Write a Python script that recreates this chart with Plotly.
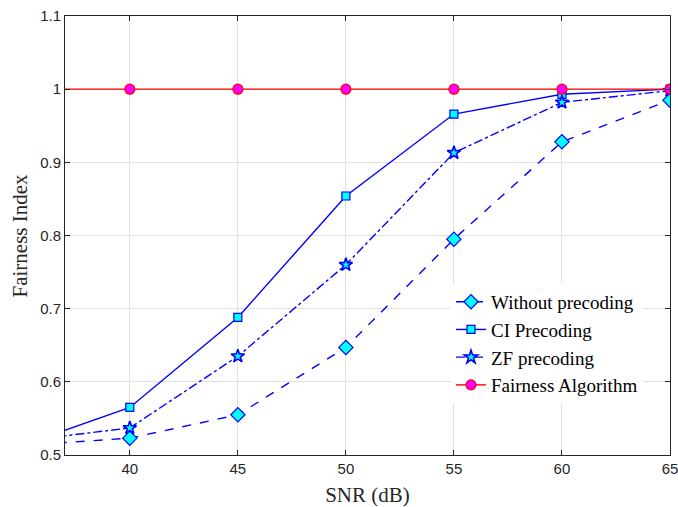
import plotly.graph_objects as go

snr = [35, 40, 45, 50, 55, 60, 65]
without_prec = [0.513, 0.523, 0.555, 0.647, 0.795, 0.928, 0.985]
ci_prec = [0.513, 0.565, 0.688, 0.854, 0.966, 0.993, 1.0]
zf_prec = [0.519, 0.537, 0.635, 0.760, 0.913, 0.982, 0.998]
fairness = [1.0, 1.0, 1.0, 1.0, 1.0, 1.0, 1.0]

x_ticks = [40, 45, 50, 55, 60, 65]
y_ticks = [0.5, 0.6, 0.7, 0.8, 0.9, 1.0, 1.1]
y_labels = ["0.5", "0.6", "0.7", "0.8", "0.9", "1", "1.1"]

fig = go.Figure()
fig.add_trace(go.Scatter(
    x=snr, y=without_prec, name="Without precoding", mode="lines+markers",
    line=dict(color="#0000FF", width=1.4, dash="dash"),
    marker=dict(symbol="diamond", size=11, color="#00FFFF", line=dict(color="#0000FF", width=1.2))))
fig.add_trace(go.Scatter(
    x=snr, y=ci_prec, name="CI Precoding", mode="lines+markers",
    line=dict(color="#0000FF", width=1.4),
    marker=dict(symbol="square", size=8, color="#00FFFF", line=dict(color="#0000FF", width=1.2))))
fig.add_trace(go.Scatter(
    x=snr, y=zf_prec, name="ZF precoding", mode="lines+markers",
    line=dict(color="#0000FF", width=1.4, dash="dashdot"),
    marker=dict(symbol="star", size=10, color="#00FFFF", line=dict(color="#0000FF", width=1.6))))
fig.add_trace(go.Scatter(
    x=snr, y=fairness, name="Fairness Algorithm", mode="lines+markers",
    line=dict(color="#FF0000", width=1.4),
    marker=dict(symbol="circle", size=10, color="#FF00FF", line=dict(color="#FF0000", width=1.2))))

axis_common = dict(
    showline=True, linecolor="#262626", linewidth=1, mirror="ticks",
    ticks="inside", ticklen=5, tickcolor="#262626",
    showgrid=True, gridcolor="#E0E0E0", gridwidth=1, zeroline=False,
    tickfont=dict(family="Liberation Sans, Arial", size=15, color="#262626"),
    automargin=False, ticklabeloverflow="allow",
)

title_font = dict(family="Liberation Serif, Times New Roman", size=21, color="#262626")

fig.update_xaxes(range=[37, 65], tickvals=x_ticks,
                 title=dict(text="SNR (dB)", font=title_font),
                 **axis_common)
fig.update_yaxes(range=[0.5, 1.1], tickvals=y_ticks, ticktext=y_labels,
                 **axis_common)

fig.add_annotation(text="Fairness Index", xref="paper", yref="paper",
                   x=0, y=0.5, xanchor="center", yanchor="middle",
                   xshift=-46, textangle=-90, showarrow=False, font=title_font)

fig.update_layout(
    width=678, height=507,
    margin=dict(l=65, r=8, t=16, b=52, autoexpand=False),
    plot_bgcolor="white", paper_bgcolor="white",
    legend=dict(x=0.638, y=0.392, xanchor="left", yanchor="top",
                bgcolor="white", borderwidth=0,
                font=dict(family="Liberation Serif, Times New Roman", size=19, color="black"),
                tracegroupgap=0, itemwidth=30),
    showlegend=True,
)

# remove the default page margin so the figure fills the window exactly
fig.write_html("out.html", config={"displayModeBar": False},
               post_script="document.body.style.margin='0';document.body.style.overflow='hidden';")
